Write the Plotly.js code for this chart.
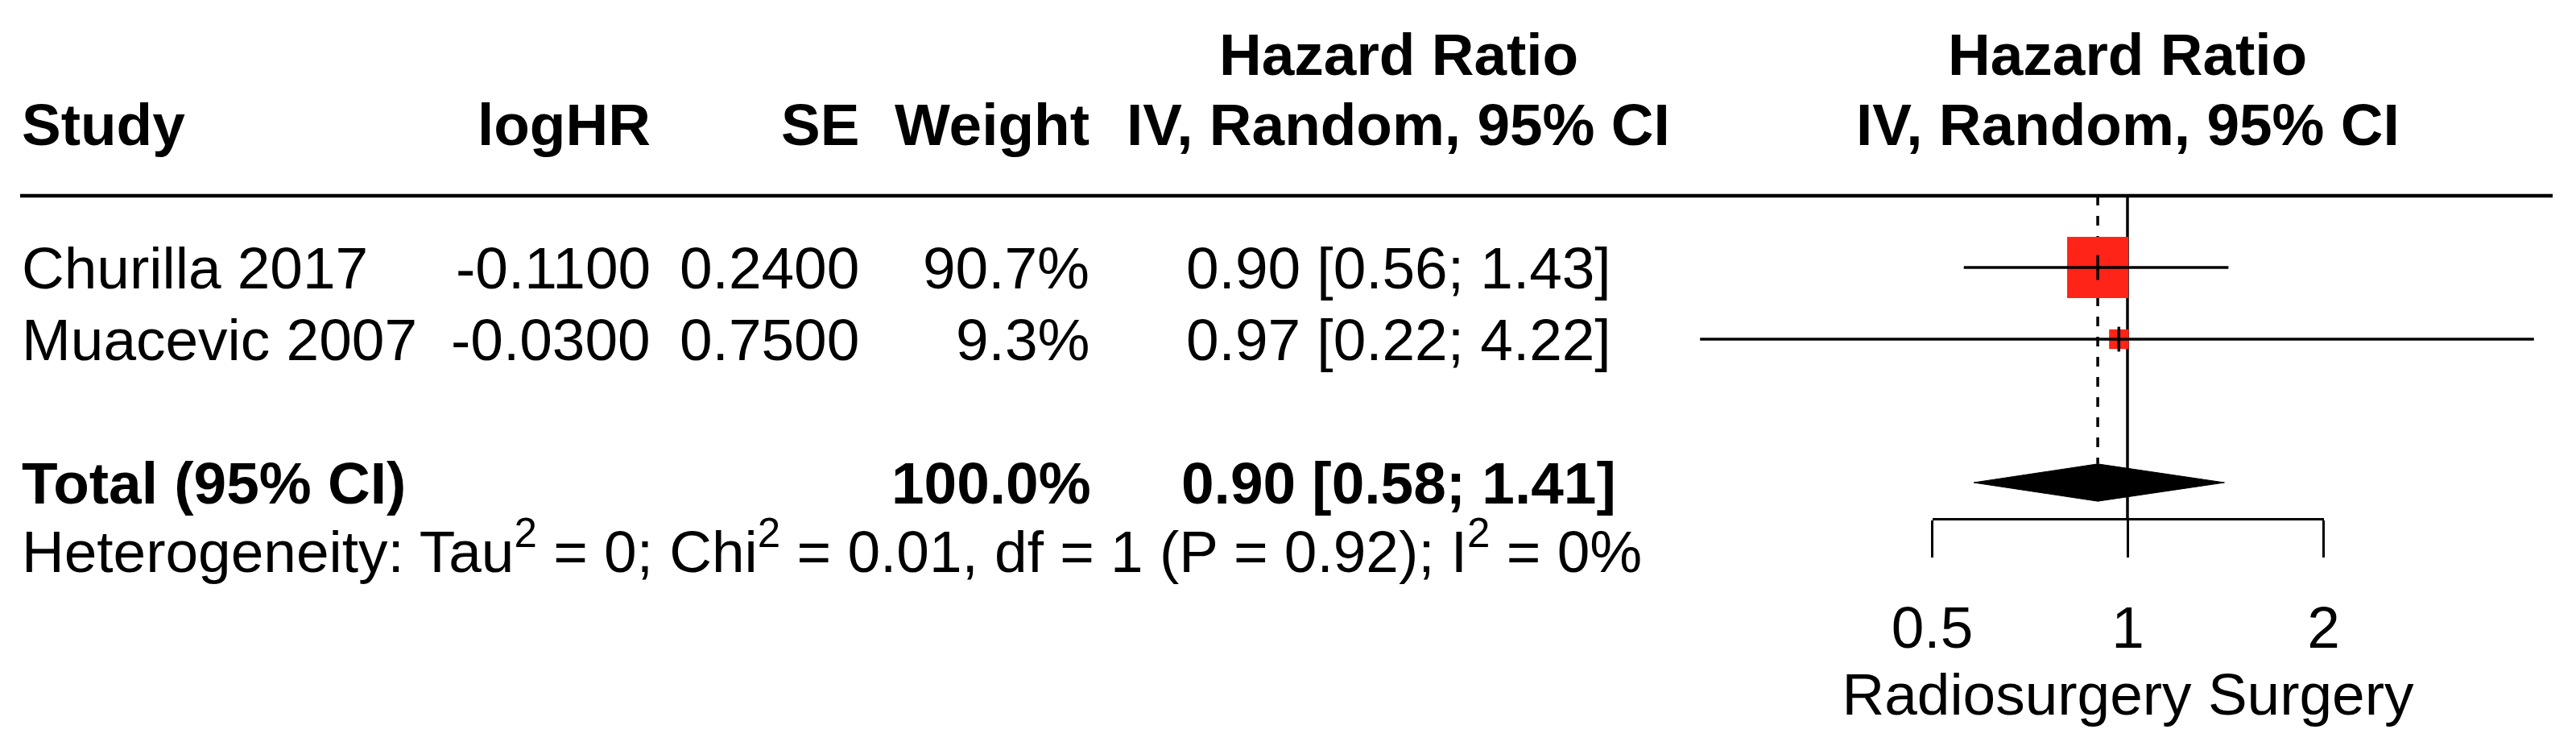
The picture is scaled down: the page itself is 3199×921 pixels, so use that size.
<!DOCTYPE html>
<html><head><meta charset="utf-8">
<script src="https://cdn.plot.ly/plotly-3.0.1.min.js"></script>
<style>html,body{margin:0;padding:0;background:#fff;overflow:hidden}</style>
</head><body><div id="chart" style="width:3199px;height:921px"></div>
<script>
// ---------- data ----------
const studies = ['Churilla 2017', 'Muacevic 2007'];
const logHR = [-0.11, -0.03];
const seLogHR = [0.24, 0.75];
const weightPct = [90.7, 9.3];
const hazardRatio = [0.90, 0.97];
const ciLower = [0.56, 0.22];
const ciUpper = [1.43, 4.22];

const totalLabel = 'Total (95% CI)';
const totalWeight = 100.0;
const totalHR = 0.90;
const totalLower = 0.58;
const totalUpper = 1.41;

const hetTau2 = 0;
const hetChi2 = 0.01;
const hetDf = 1;
const hetP = 0.92;
const hetI2 = 0;

const columnHeaders = ['Study', 'logHR', 'SE', 'Weight', 'IV, Random, 95% CI'];
const effectHeader = 'Hazard Ratio';
const plotHeader = ['Hazard Ratio', 'IV, Random, 95% CI'];
const axisTicks = [0.5, 1, 2];
const axisTickLabels = ['0.5', '1', '2'];
const axisLabel = 'Radiosurgery Surgery';

// ---------- layout helpers ----------
const W = 3199, H = 921;
const FS = 73;
const FONT = 'Liberation Sans, Arial, Helvetica, sans-serif';
const px = v => v / W;                 // horizontal pixel -> paper fraction
const ROW0 = 243, ROWH = 89;           // row 0 at header rule, 89 px per row
const studyRows = studies.map((s, i) => i + 1);
const totalRow = studies.length + 2;
const hetRow = totalRow + 0.9;
const axisRow = totalRow + 0.5;
const diamondHalf = 0.26;
const PX_PER_LOG10 = 807.2, REF_PX = 2642;

const ann = [];
function txt(text, xpx, row, anchor, bold) {
  ann.push({
    text: bold ? '<b>' + text + '</b>' : text,
    xref: 'paper', yref: 'y', x: px(xpx), y: row,
    xanchor: anchor, yanchor: 'middle', showarrow: false, borderpad: 0,
    font: {family: FONT, size: FS, color: '#000'}
  });
}
// headers
txt(effectHeader, 1737, -1.97, 'center', true);
txt(columnHeaders[0], 26, -1, 'left', true);
txt(columnHeaders[1], 809, -1, 'right', true);
txt(columnHeaders[2], 1068, -1, 'right', true);
txt(columnHeaders[3], 1354, -1, 'right', true);
txt(columnHeaders[4], 1737, -1, 'center', true);
txt(plotHeader[0], 2642, -1.97, 'center', true);
txt(plotHeader[1], 2642, -1, 'center', true);

const f2 = v => v.toFixed(2);
studies.forEach((s, i) => {
  const r = studyRows[i];
  txt(s, 26, r, 'left', false);
  txt(logHR[i].toFixed(4), 809, r, 'right', false);
  txt(seLogHR[i].toFixed(4), 1068, r, 'right', false);
  txt(weightPct[i].toFixed(1) + '%', 1354, r, 'right', false);
  txt(f2(hazardRatio[i]) + ' [' + f2(ciLower[i]) + '; ' + f2(ciUpper[i]) + ']', 1737, r, 'center', false);
});
txt(totalLabel, 26, totalRow, 'left', true);
txt(totalWeight.toFixed(1) + '%', 1356, totalRow, 'right', true);
txt(f2(totalHR) + ' [' + f2(totalLower) + '; ' + f2(totalUpper) + ']', 1737, totalRow, 'center', true);
txt('Heterogeneity: Tau<sup>2</sup> = ' + hetTau2 + '; Chi<sup>2</sup> = ' + hetChi2.toFixed(2) +
    ', df = ' + hetDf + ' (P = ' + hetP.toFixed(2) + '); I<sup>2</sup> = ' + hetI2 + '%', 26, hetRow, 'left', false);

// ---------- traces ----------
const maxW = Math.max(...weightPct);
const ciX = [], ciY = [];
studies.forEach((s, i) => { ciX.push(ciLower[i], ciUpper[i], null); ciY.push(studyRows[i], studyRows[i], null); });

const traces = [
  {x: [1, 1], y: [0, axisRow], mode: 'lines', line: {color: '#000', width: 3.5}, hoverinfo: 'skip'},
  {x: [totalHR, totalHR], y: [0, totalRow - diamondHalf], mode: 'lines',
   line: {color: '#000', width: 3.5, dash: '12px,13px'}, hoverinfo: 'skip'},
  {x: hazardRatio, y: studyRows, mode: 'markers', cliponaxis: false,
   marker: {symbol: 'square', color: '#FF2318', opacity: 1, line: {width: 0},
            size: weightPct.map(w => 76 * Math.sqrt(w / maxW))}, hoverinfo: 'skip'},
  {x: ciX, y: ciY, mode: 'lines', line: {color: '#000', width: 3.5}, hoverinfo: 'skip'},
  {x: hazardRatio, y: studyRows, mode: 'markers', cliponaxis: false,
   marker: {symbol: 'line-ns-open', size: 22, color: '#000', opacity: 1, line: {width: 3.5, color: '#000'}}, hoverinfo: 'skip'},
  {x: [totalLower, totalHR, totalUpper, totalHR, totalLower],
   y: [totalRow, totalRow - diamondHalf, totalRow, totalRow + diamondHalf, totalRow],
   mode: 'lines', fill: 'toself', fillcolor: '#000', line: {color: '#000', width: 1}, hoverinfo: 'skip'},
  {x: [1], y: [axisRow], xaxis: 'x2', yaxis: 'y', mode: 'markers', marker: {opacity: 0}, hoverinfo: 'skip'}
];

const layout = {
  width: W, height: H,
  margin: {l: 0, r: 0, t: 0, b: 0, pad: 0},
  paper_bgcolor: '#fff', plot_bgcolor: 'rgba(0,0,0,0)',
  showlegend: false,
  font: {family: FONT, size: FS, color: '#000'},
  xaxis: {type: 'log', domain: [0, 1], range: [-REF_PX / PX_PER_LOG10, (W - REF_PX) / PX_PER_LOG10],
          visible: false, showgrid: false, zeroline: false, fixedrange: true},
  yaxis: {domain: [0, 1], range: [(H - ROW0) / ROWH, -ROW0 / ROWH],
          visible: false, showgrid: false, zeroline: false, fixedrange: true},
  xaxis2: {type: 'log', domain: [px(2399.5), px(2885.5)], range: [Math.log10(0.5), Math.log10(2)],
           anchor: 'free', position: (H - (ROW0 + axisRow * ROWH)) / H,
           showline: true, linecolor: '#000', linewidth: 3.5,
           ticks: 'outside', ticklen: 46, tickwidth: 3.5, tickcolor: '#000',
           tickvals: axisTicks, ticktext: axisTickLabels, ticklabelstandoff: 24,
           tickfont: {family: FONT, size: FS, color: '#000'},
           showgrid: false, zeroline: false, fixedrange: true,
           title: {text: axisLabel, standoff: 18, font: {family: FONT, size: FS, color: '#000'}}},
  shapes: [
    {type: 'line', xref: 'paper', yref: 'y', x0: px(25), x1: px(3170), y0: 0, y1: 0,
     line: {color: '#000', width: 4.5}}
  ],
  annotations: ann
};

Plotly.newPlot('chart', traces, layout, {displayModeBar: false, staticPlot: true});
</script></body></html>
